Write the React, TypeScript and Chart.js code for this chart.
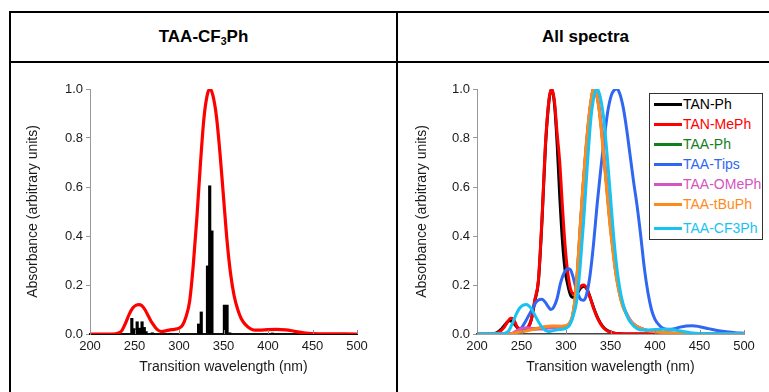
import React, { useEffect, useRef } from "react";
import { Chart, registerables } from "chart.js";

Chart.register(...registerables);

// ---------- data ----------
const xTickValues = [200, 250, 300, 350, 400, 450, 500];
const yTickValues = [0, 0.2, 0.4, 0.6, 0.8, 1.0];

const leftTitle = "TAA-CF";
const leftTitleSub = "3";
const leftTitleEnd = "Ph";
const rightTitle = "All spectra";
const xAxisTitle = "Transition wavelength (nm)";
const yAxisTitle = "Absorbance (arbitrary units)";

// TAA-CF3Ph simulated spectrum
const cf3Wl = [200, 225, 232, 236, 240, 244, 248, 252, 255, 258, 262, 266, 270, 275, 280, 285, 290, 295, 300, 304, 308, 312, 316, 320, 324, 328, 332, 335, 338, 342, 346, 350, 354, 358, 362, 366, 370, 375, 380, 385, 390, 400, 410, 420, 430, 440, 450, 500];
const cf3Abs = [0, 0, 0.004, 0.015, 0.045, 0.08, 0.106, 0.118, 0.12, 0.116, 0.098, 0.07, 0.044, 0.02, 0.01, 0.013, 0.017, 0.019, 0.024, 0.036, 0.072, 0.135, 0.28, 0.47, 0.69, 0.88, 0.98, 1.0, 0.975, 0.89, 0.74, 0.56, 0.38, 0.245, 0.155, 0.1, 0.062, 0.037, 0.022, 0.016, 0.016, 0.018, 0.019, 0.017, 0.011, 0.005, 0.002, 0];

// TAA-CF3Ph transitions (sticks)
const stickWl = [247, 249.5, 253, 255.5, 258.5, 261, 263, 270, 290, 322, 325, 332, 334.5, 337, 351, 354, 357, 405];
const stickAbs = [0.064, 0.022, 0.05, 0.024, 0.05, 0.027, 0.01, 0.005, 0.003, 0.041, 0.09, 0.278, 0.605, 0.421, 0.118, 0.118, 0.005, 0.004];

// All spectra
const tanPhWl = [200, 215, 222, 228, 232, 236, 240, 244, 248, 253, 257, 261, 265, 269, 273, 277, 281, 284, 287, 290, 293, 296, 299, 302, 305, 308, 312, 316, 320, 324, 328, 332, 336, 341, 346, 351, 357, 365, 500];
const tanPhAbs = [0, 0, 0.005, 0.022, 0.04, 0.054, 0.05, 0.032, 0.018, 0.015, 0.024, 0.058, 0.135, 0.215, 0.46, 0.77, 0.955, 1.0, 0.94, 0.78, 0.56, 0.38, 0.26, 0.2, 0.16, 0.15, 0.162, 0.186, 0.195, 0.18, 0.14, 0.098, 0.063, 0.032, 0.015, 0.006, 0.002, 0, 0];

const tanMePhWl = [200, 218, 225, 230, 234, 238, 241, 245, 249, 253, 257, 261, 265, 269, 273, 277, 281, 284, 287, 290, 293, 296, 299, 302, 305, 308, 311, 314, 317, 320, 323, 327, 331, 335, 340, 345, 350, 356, 365, 500];
const tanMePhAbs = [0, 0, 0.008, 0.025, 0.048, 0.064, 0.06, 0.03, 0.018, 0.016, 0.025, 0.06, 0.14, 0.22, 0.47, 0.78, 0.96, 1.0, 0.95, 0.82, 0.7, 0.52, 0.36, 0.25, 0.185, 0.165, 0.168, 0.182, 0.196, 0.2, 0.188, 0.15, 0.105, 0.068, 0.035, 0.016, 0.007, 0.002, 0, 0];

const taaPhWl = [200, 238, 245, 252, 260, 270, 280, 290, 300, 304, 307, 310, 313, 316, 319, 322, 325, 328, 331, 334, 337, 340, 343, 346, 349, 352, 356, 360, 364, 368, 373, 380, 390, 400, 420, 500];
const taaPhAbs = [0, 0, 0.01, 0.018, 0.02, 0.022, 0.027, 0.03, 0.032, 0.043, 0.068, 0.135, 0.265, 0.435, 0.595, 0.735, 0.855, 0.948, 1.0, 0.982, 0.925, 0.83, 0.71, 0.59, 0.47, 0.37, 0.25, 0.17, 0.114, 0.082, 0.05, 0.03, 0.016, 0.01, 0.003, 0];

const taaTipsWl = [200, 240, 246, 250, 254, 258, 262, 266, 270, 273, 277, 280, 283, 286, 290, 294, 298, 302, 305, 308, 311, 314, 317, 320, 323, 327, 331, 335, 339, 343, 347, 351, 354, 357, 360, 364, 368, 372, 376, 380, 384, 388, 392, 396, 400, 405, 410, 416, 422, 428, 435, 442, 450, 460, 470, 480, 490, 500];
const taaTipsAbs = [0, 0, 0.008, 0.025, 0.048, 0.075, 0.1, 0.128, 0.14, 0.142, 0.128, 0.112, 0.1, 0.108, 0.145, 0.21, 0.25, 0.266, 0.262, 0.232, 0.19, 0.158, 0.14, 0.138, 0.16, 0.24, 0.37, 0.53, 0.67, 0.8, 0.91, 0.975, 0.995, 1.0, 0.985, 0.93, 0.84, 0.73, 0.62, 0.52, 0.4, 0.27, 0.17, 0.1, 0.06, 0.035, 0.022, 0.019, 0.022, 0.028, 0.033, 0.034, 0.03, 0.022, 0.014, 0.009, 0.005, 0.003];

const taaOMePhWl = [200, 238, 244, 250, 256, 262, 270, 280, 290, 300, 304, 307, 310, 313, 316, 319, 322, 325, 328, 331, 334, 337, 340, 343, 346, 349, 352, 356, 360, 364, 368, 373, 380, 390, 400, 410, 420, 440, 500];
const taaOMePhAbs = [0, 0, 0.012, 0.022, 0.026, 0.022, 0.02, 0.024, 0.028, 0.032, 0.042, 0.065, 0.13, 0.26, 0.43, 0.59, 0.73, 0.85, 0.945, 1.0, 0.985, 0.93, 0.84, 0.72, 0.6, 0.48, 0.38, 0.26, 0.175, 0.118, 0.084, 0.052, 0.03, 0.016, 0.01, 0.006, 0.003, 0, 0];

const taaTBuPhWl = [200, 235, 245, 255, 265, 275, 285, 295, 300, 304, 307, 310, 313, 316, 319, 322, 325, 328, 331, 334, 337, 340, 343, 346, 349, 352, 356, 360, 364, 368, 373, 380, 390, 400, 410, 420, 440, 500];
const taaTBuPhAbs = [0, 0, 0.006, 0.012, 0.02, 0.03, 0.033, 0.032, 0.034, 0.045, 0.07, 0.14, 0.27, 0.44, 0.6, 0.74, 0.86, 0.95, 1.0, 0.98, 0.92, 0.82, 0.7, 0.58, 0.46, 0.36, 0.245, 0.165, 0.11, 0.08, 0.05, 0.03, 0.016, 0.01, 0.006, 0.003, 0, 0];

const seriesNames = ["TAN-Ph", "TAN-MePh", "TAA-Ph", "TAA-Tips", "TAA-OMePh", "TAA-tBuPh", "TAA-CF3Ph"];
const seriesColors = ["#000000", "#ff0000", "#11801a", "#2f67f2", "#d654c0", "#ff8a1c", "#17c3f2"];
const seriesWl = [tanPhWl, tanMePhWl, taaPhWl, taaTipsWl, taaOMePhWl, taaTBuPhWl, cf3Wl];
const seriesAbs = [tanPhAbs, tanMePhAbs, taaPhAbs, taaTipsAbs, taaOMePhAbs, taaTBuPhAbs, cf3Abs];

const leftCurveColor = "#ff0000";
const stickColor = "#000000";

// ---------- helpers ----------
const FONT = "'Liberation Sans', Arial, Helvetica, sans-serif";
const TEXT = "#1a1a1a";

const toPoints = (xs: number[], ys: number[]) => xs.map((x, i) => ({ x, y: ys[i] }));

const innerXTicks = {
  id: "innerXTicks",
  afterDatasetsDraw(chart: any) {
    const s = chart.scales.x;
    const ctx = chart.ctx;
    const y = chart.chartArea.bottom;
    ctx.save();
    ctx.strokeStyle = "#8a8a8a";
    ctx.lineWidth = 1;
    s.ticks.forEach((t: any) => {
      const px = Math.round(s.getPixelForValue(t.value)) + 0.5;
      ctx.beginPath();
      ctx.moveTo(px, y);
      ctx.lineTo(px, y - 4);
      ctx.stroke();
    });
    ctx.restore();
  },
};

function makeOptions(padLeft: number, padRight: number, yWidth: number, xBorderColor: string, xBorderWidth: number) {
  return {
    responsive: false,
    animation: false as const,
    events: [] as any[],
    layout: { padding: { left: padLeft, right: padRight, top: 26, bottom: 12 } },
    plugins: { legend: { display: false }, tooltip: { enabled: false } },
    scales: {
      x: {
        type: "linear" as const,
        offset: false,
        min: xTickValues[0],
        max: xTickValues[xTickValues.length - 1],
        afterBuildTicks: (s: any) => {
          s.ticks = xTickValues.map((v) => ({ value: v }));
        },
        afterFit: (s: any) => {
          s.height = 46;
        },
        grid: { display: true, drawOnChartArea: false, drawTicks: false, offset: false },
        border: { display: true, color: xBorderColor, width: xBorderWidth },
        ticks: { padding: 5, font: { family: FONT, size: 13 }, color: TEXT, maxRotation: 0, autoSkip: false },
        title: { display: true, text: xAxisTitle, font: { family: FONT, size: 14 }, color: TEXT, padding: { top: 0, bottom: 4 } },
      },
      y: {
        type: "linear" as const,
        min: yTickValues[0],
        max: yTickValues[yTickValues.length - 1],
        afterBuildTicks: (s: any) => {
          s.ticks = yTickValues.map((v) => ({ value: v }));
        },
        afterFit: (s: any) => {
          s.width = yWidth;
        },
        grid: { display: true, drawOnChartArea: false, drawTicks: true, tickLength: 4, color: "#999999" },
        border: { display: true, color: "#999999", width: 1 },
        ticks: { padding: 3, font: { family: FONT, size: 13 }, color: TEXT, callback: (v: any) => Number(v).toFixed(1) },
        title: { display: true, text: yAxisTitle, font: { family: FONT, size: 14 }, color: TEXT, padding: { top: 0, bottom: 0 } },
      },
    },
  };
}

function LeftChart() {
  const ref = useRef<HTMLCanvasElement | null>(null);
  useEffect(() => {
    if (!ref.current) return;
    const chart = new Chart(ref.current, {
      type: "line",
      data: {
        datasets: [
          {
            type: "line",
            data: toPoints(cf3Wl, cf3Abs),
            borderColor: leftCurveColor,
            borderWidth: 3.2,
            pointRadius: 0,
            cubicInterpolationMode: "monotone",
            fill: false,
            order: 1,
          } as any,
          {
            type: "bar",
            data: toPoints(stickWl, stickAbs),
            backgroundColor: stickColor,
            borderWidth: 0,
            barThickness: 2.5,
            grouped: false,
            order: 2,
          } as any,
        ],
      },
      options: makeOptions(13, 39, 65, "#111111", 2) as any,
      plugins: [innerXTicks],
    });
    return () => chart.destroy();
  }, []);
  return <canvas ref={ref} width={384} height={329} style={{ position: "absolute", left: 12, top: 63, width: 384, height: 329 }} />;
}

function RightChart() {
  const ref = useRef<HTMLCanvasElement | null>(null);
  useEffect(() => {
    if (!ref.current) return;
    const n = seriesNames.length;
    const chart = new Chart(ref.current, {
      type: "line",
      data: {
        datasets: seriesNames.map((name, i) => ({
          label: name,
          data: toPoints(seriesWl[i], seriesAbs[i]),
          borderColor: seriesColors[i],
          borderWidth: 3,
          pointRadius: 0,
          cubicInterpolationMode: "monotone",
          fill: false,
          order: n - i,
        })) as any,
      },
      options: makeOptions(16, 25, 63, "#444444", 1.5) as any,
      plugins: [innerXTicks],
    });
    return () => chart.destroy();
  }, []);
  return <canvas ref={ref} width={371} height={329} style={{ position: "absolute", left: 398, top: 63, width: 371, height: 329 }} />;
}

function Legend() {
  return (
    <div
      style={{
        position: "absolute",
        left: 649,
        top: 93,
        width: 114,
        height: 147,
        border: "1px solid #333",
        boxSizing: "border-box",
        background: "#fff",
      }}
    >
      {seriesNames.map((name, i) => (
        <div
          key={name}
          style={{
            position: "absolute",
            left: 4,
            top: i * 20 + (i === seriesNames.length - 1 ? 4 : 0),
            height: 20,
            display: "flex",
            alignItems: "center",
            whiteSpace: "nowrap",
          }}
        >
          <span style={{ display: "inline-block", width: 28, height: 3, background: seriesColors[i], marginRight: 1 }} />
          <span style={{ font: `14px ${FONT}`, color: seriesColors[i] }}>{name}</span>
        </div>
      ))}
    </div>
  );
}

export default function App() {
  const line = (l: number, t: number, w: number, h: number) => (
    <div style={{ position: "absolute", left: l, top: t, width: w, height: h, background: "#000" }} />
  );
  const headerFont = `bold 17px ${FONT}`;
  return (
    <div style={{ position: "absolute", left: 0, top: 0, width: 769, height: 392, overflow: "hidden", background: "#fff" }}>
      {line(9, 11, 760, 2)}
      {line(9, 61, 760, 2)}
      {line(9, 11, 2, 381)}
      {line(396, 11, 2, 381)}
      <div
        style={{
          position: "absolute",
          left: 11,
          top: 13,
          width: 385,
          height: 48,
          display: "flex",
          alignItems: "center",
          justifyContent: "center",
          font: headerFont,
          color: "#000",
        }}
      >
        <span>
          {leftTitle}
          <span style={{ fontSize: "0.62em", position: "relative", top: "0.3em" }}>{leftTitleSub}</span>
          {leftTitleEnd}
        </span>
      </div>
      <div
        style={{
          position: "absolute",
          left: 398,
          top: 13,
          width: 375,
          height: 48,
          display: "flex",
          alignItems: "center",
          justifyContent: "center",
          font: headerFont,
          color: "#000",
        }}
      >
        {rightTitle}
      </div>
      <LeftChart />
      <RightChart />
      <Legend />
    </div>
  );
}
